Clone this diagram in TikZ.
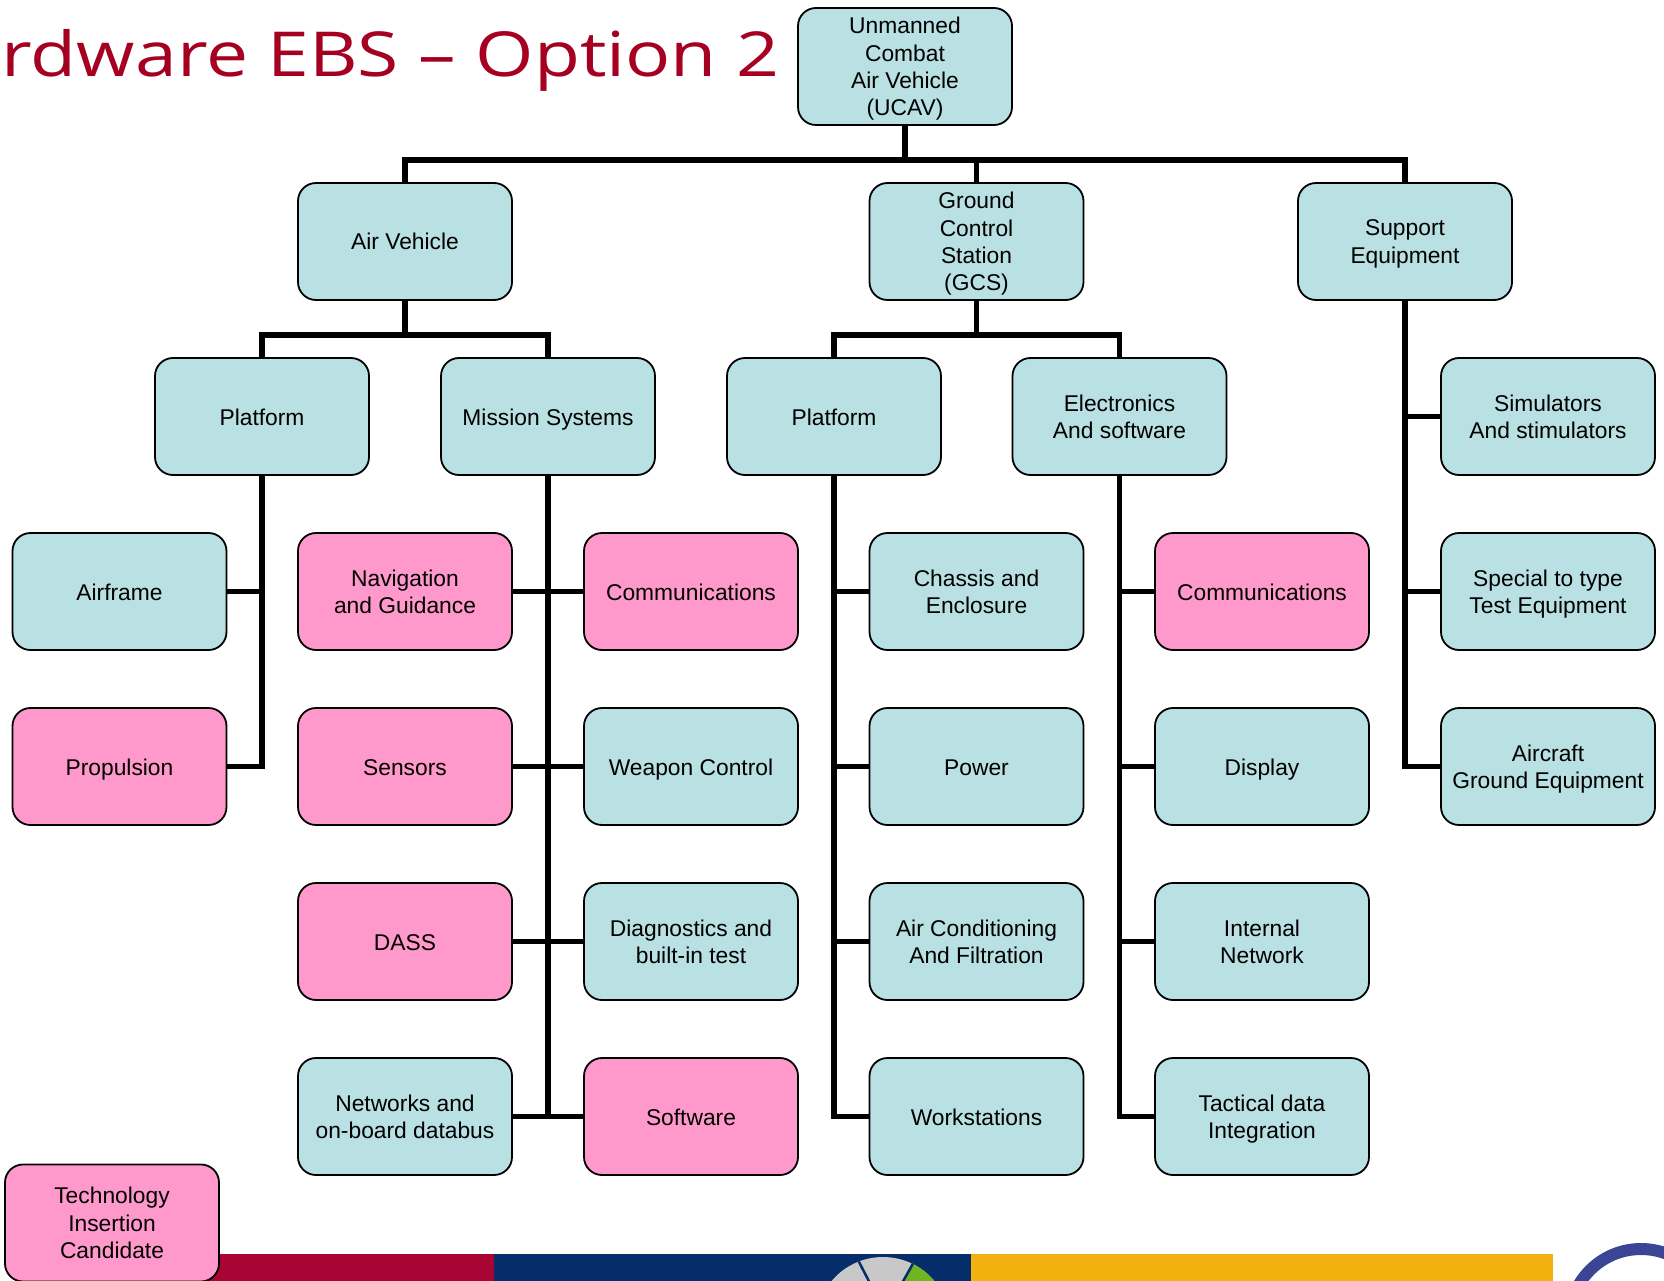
\documentclass[tikz,border=0pt]{standalone}
\usepackage{fontspec}
\usepackage{xcolor}
\setmainfont{Liberation Sans}
\newfontfamily\titlefont[FakeStretch=1.21]{Open Sans}
\usepackage{tikz}
\definecolor{boxteal}{HTML}{B9E0E3}
\definecolor{boxpink}{HTML}{FF99CC}
\definecolor{titlered}{HTML}{A50021}
\definecolor{barmaroon}{HTML}{A80534}
\definecolor{barnavy}{HTML}{052D69}
\definecolor{baryellow}{HTML}{F2B10E}
\definecolor{ringblue}{HTML}{3B4596}
\definecolor{piegrey}{HTML}{C8C8C8}
\definecolor{piegreen}{HTML}{6FB51F}
\tikzset{
  wbsbox/.style={draw=black, line width=1.8pt, rounded corners=18pt, minimum width=214pt, minimum height=117pt, inner sep=0pt, align=center, text depth=0pt, execute at begin node={\rule{0pt}{17pt}}, font=\fontsize{22.8}{27.3}\selectfont},
  tealbox/.style={wbsbox, fill=boxteal},
  pinkbox/.style={wbsbox, fill=boxpink},
  link/.style={draw=black, line width=5.7pt}
}
\begin{document}
\begin{tikzpicture}[x=1pt, y=-1pt]
             \useasboundingbox (0,0) rectangle (1664,1281);
             \fill [barmaroon] (200,1253.5) rectangle (494,1281);
             \fill [barnavy] (494,1253.5) rectangle (971,1281);
             \fill [baryellow] (971,1253.5) rectangle (1553,1281);
             \begin{scope}
             \clip (780,1253.5) rectangle (971,1281);
             \clip (883,1324) circle (67);
             \fill [piegrey] (780,1253) rectangle (971,1281);
             \fill [piegreen] (879,1324) -- (915,1260) -- (971,1260) -- (971,1324) -- cycle;
             \draw [barnavy, line width=2.5pt] (891,1324) -- (858,1260);
             \draw [barnavy, line width=2.5pt] (879,1324) -- (915,1260);
             \end{scope}
             \begin{scope}
             \clip (1560,1230) rectangle (1664,1281);
             \draw [ringblue, line width=12pt] (1641,1321) circle (72);
             \end{scope}
             \node [anchor=base east, text=titlered, font=\titlefont\fontsize{62}{62}\selectfont, inner sep=0pt] (pagetitle) at (779.5,77) {rdware EBS – Option 2};

             \node [tealbox] (ucav) at (905,66.5) {Unmanned\\Combat\\Air Vehicle\\(UCAV)};
             \node [tealbox] (airveh) at (405,241.5) {Air Vehicle};
             \node [tealbox] (gcs) at (976.5,241.5) {Ground\\Control\\Station\\(GCS)};
             \node [tealbox] (support) at (1405,241.5) {Support\\Equipment};

             \node [tealbox] (avplat) at (262,416.5) {Platform};
             \node [tealbox] (mission) at (548,416.5) {Mission Systems};
             \node [tealbox] (gcsplat) at (834,416.5) {Platform};
             \node [tealbox] (elec) at (1119.5,416.5) {Electronics\\And software};

             \node [tealbox] (airframe) at (119.5,591.5) {Airframe};
             \node [pinkbox] (propulsion) at (119.5,766.5) {Propulsion};

             \node [pinkbox] (nav) at (405,591.5) {Navigation\\and Guidance};
             \node [pinkbox] (sensors) at (405,766.5) {Sensors};
             \node [pinkbox] (dass) at (405,941.5) {DASS};
             \node [tealbox] (networks) at (405,1116.5) {Networks and\\on-board databus};

             \node [pinkbox] (comms) at (691,591.5) {Communications};
             \node [tealbox] (weapon) at (691,766.5) {Weapon Control};
             \node [tealbox] (diag) at (691,941.5) {Diagnostics and\\built-in test};
             \node [pinkbox] (software) at (691,1116.5) {Software};

             \node [tealbox] (chassis) at (976.5,591.5) {Chassis and\\Enclosure};
             \node [tealbox] (power) at (976.5,766.5) {Power};
             \node [tealbox] (aircon) at (976.5,941.5) {Air Conditioning\\And Filtration};
             \node [tealbox] (workst) at (976.5,1116.5) {Workstations};

             \node [pinkbox] (gcscomms) at (1262,591.5) {Communications};
             \node [tealbox] (display) at (1262,766.5) {Display};
             \node [tealbox] (network) at (1262,941.5) {Internal\\Network};
             \node [tealbox] (tactical) at (1262,1116.5) {Tactical data\\Integration};

             \node [tealbox] (simul) at (1548,416.5) {Simulators\\And stimulators};
             \node [tealbox] (special) at (1548,591.5) {Special to type\\Test Equipment};
             \node [tealbox] (gse) at (1548,766.5) {Aircraft\\Ground Equipment};

             \node [pinkbox] (techcand) at (112,1223) {Technology\\Insertion\\Candidate};

             \coordinate (topbus) at (0,160);
             \coordinate (midbus) at (0,335);
             \draw [link] (ucav.south) -- (ucav.south |- topbus);
             \draw [link] (airveh.north) -- (airveh.north |- topbus) -- (support.north |- topbus) -- (support.north);
             \draw [link] (gcs.north) -- (gcs.north |- topbus);

             \draw [link] (airveh.south) -- (airveh.south |- midbus);
             \draw [link] (avplat.north) -- (avplat.north |- midbus) -- (mission.north |- midbus) -- (mission.north);
             \draw [link] (gcs.south) -- (gcs.south |- midbus);
             \draw [link] (gcsplat.north) -- (gcsplat.north |- midbus) -- (elec.north |- midbus) -- (elec.north);

             \draw [link] (avplat.south) |- (propulsion.east);
             \draw [link] (airframe.east) -- (airframe.east -| avplat.south);

             \draw [link] (mission.south) -- (mission.south |- software.west);
             \draw [link] (nav.east) -- (comms.west);
             \draw [link] (sensors.east) -- (weapon.west);
             \draw [link] (dass.east) -- (diag.west);
             \draw [link] (networks.east) -- (software.west);

             \draw [link] (gcsplat.south) |- (workst.west);
             \draw [link] (chassis.west) -- (chassis.west -| gcsplat.south);
             \draw [link] (power.west) -- (power.west -| gcsplat.south);
             \draw [link] (aircon.west) -- (aircon.west -| gcsplat.south);

             \draw [link] (elec.south) |- (tactical.west);
             \draw [link] (gcscomms.west) -- (gcscomms.west -| elec.south);
             \draw [link] (display.west) -- (display.west -| elec.south);
             \draw [link] (network.west) -- (network.west -| elec.south);

             \draw [link] (support.south) |- (gse.west);
             \draw [link] (simul.west) -- (simul.west -| support.south);
             \draw [link] (special.west) -- (special.west -| support.south);
         \end{tikzpicture}
\end{document}
